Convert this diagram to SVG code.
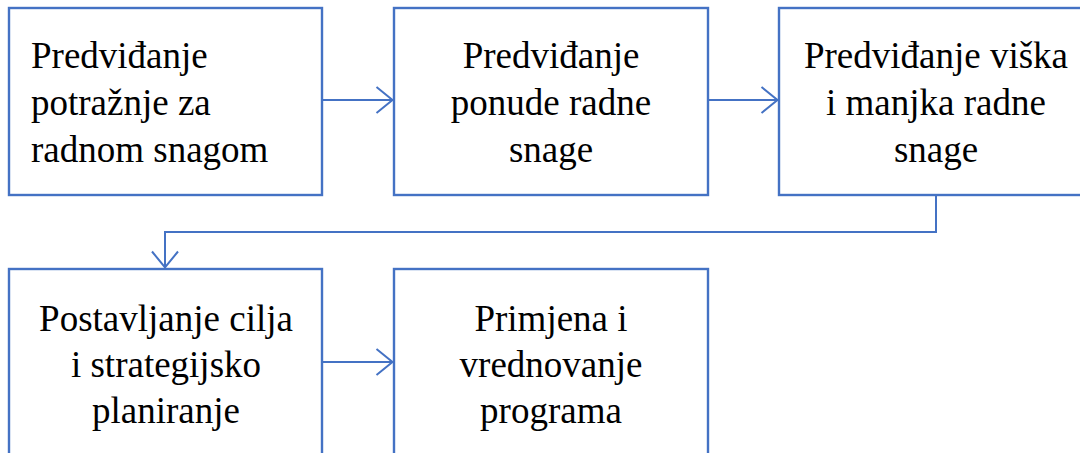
<svg xmlns="http://www.w3.org/2000/svg" width="1080" height="453" viewBox="0 0 1080 453">
<style>
.box{fill:#fff;stroke:#4472C4;stroke-width:2.4}
.t{font-family:"Liberation Serif","Times New Roman",serif;font-size:37px;fill:#000}
.c{text-anchor:middle}
.con{fill:none;stroke:#4472C4;stroke-width:2}
</style>
<defs>
<marker id="ah" viewBox="0 0 20 30" refX="18.5" refY="15" markerWidth="20" markerHeight="30" markerUnits="userSpaceOnUse" orient="auto">
<path d="M2,2 L18,15 L2,28" fill="none" stroke="#4472C4" stroke-width="2"/>
</marker>
</defs>
<rect width="1080" height="453" fill="#fff"/>
<g id="n1"><rect class="box" x="9" y="8" width="313" height="187"/>
<text class="t" x="31" y="68">Predviđanje</text>
<text class="t" x="31" y="115">potražnje za</text>
<text class="t" x="31" y="162">radnom snagom</text></g>
<g id="n2"><rect class="box" x="394" y="8" width="314" height="187"/>
<text class="t c" x="551" y="68">Predviđanje</text>
<text class="t c" x="551" y="115">ponude radne</text>
<text class="t c" x="551" y="162">snage</text></g>
<g id="n3"><rect class="box" x="779" y="8" width="314" height="187"/>
<text class="t c" x="936" y="68">Predviđanje viška</text>
<text class="t c" x="936" y="115">i manjka radne</text>
<text class="t c" x="936" y="162">snage</text></g>
<g id="n4"><rect class="box" x="9" y="269" width="313" height="200"/>
<text class="t c" x="166" y="331">Postavljanje cilja</text>
<text class="t c" x="166" y="377">i strategijsko</text>
<text class="t c" x="166" y="423">planiranje</text></g>
<g id="n5"><rect class="box" x="394" y="269" width="314" height="200"/>
<text class="t c" x="551" y="331">Primjena i</text>
<text class="t c" x="551" y="377">vrednovanje</text>
<text class="t c" x="551" y="423">programa</text></g>
<g id="connectors">
<path class="con" d="M322,100 H393" marker-end="url(#ah)"/>
<path class="con" d="M708,100 H778" marker-end="url(#ah)"/>
<path class="con" d="M936,195 V232 H165 V268" marker-end="url(#ah)"/>
<path class="con" d="M322,362 H393" marker-end="url(#ah)"/>
</g>
</svg>
